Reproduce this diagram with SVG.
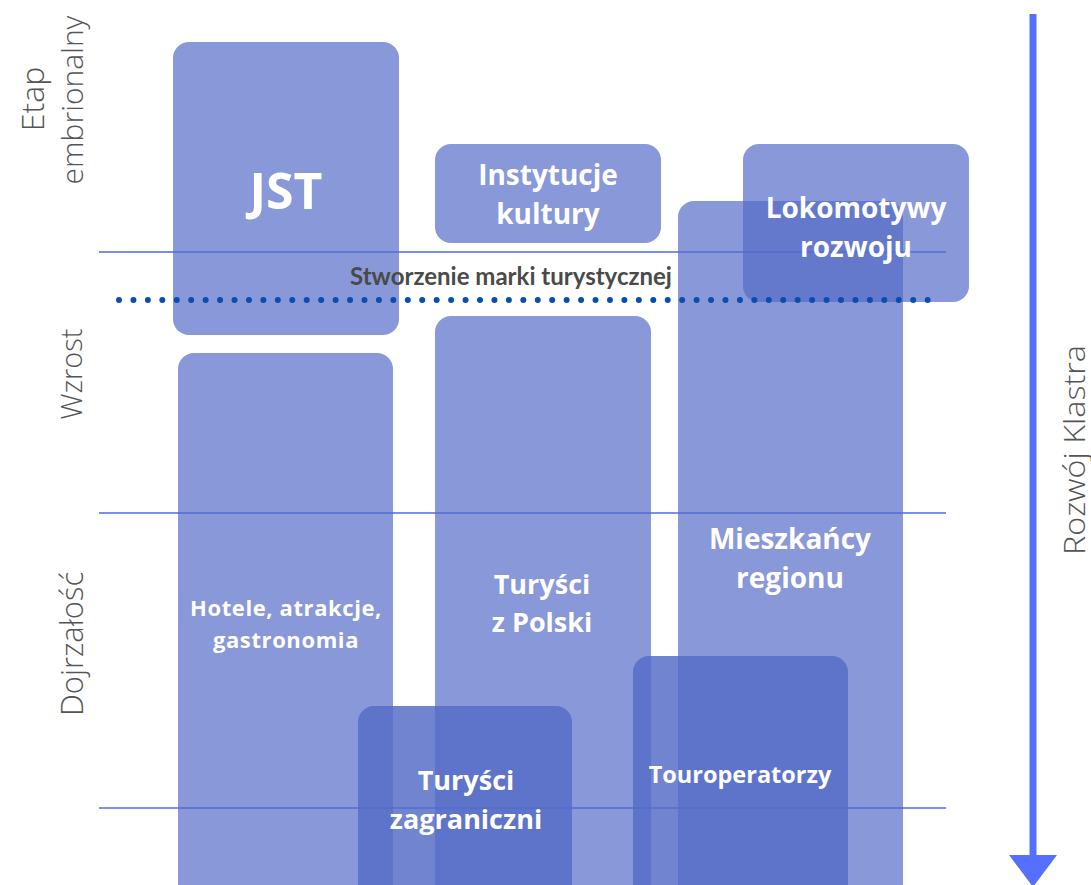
<svg xmlns="http://www.w3.org/2000/svg" width="1091" height="885" viewBox="0 0 1091 885">
  <style>
    .box { fill: #566cc7; fill-opacity: 0.7; }
    .box-dark { fill: #566cc7; fill-opacity: 0.84; }
    .label { font-family: "Open Sans", "Liberation Sans", sans-serif; font-weight: 700; fill: #ffffff; text-anchor: middle; }
    .phase { font-family: "Open Sans", "Liberation Sans", sans-serif; font-weight: 300; fill: #555555; text-anchor: middle; }
    .guide { stroke: #5068e8; stroke-width: 1.5; fill: none; }
  </style>
  <rect width="1091" height="885" fill="#ffffff"/>

  <!-- phase boundaries and development axis -->
  <g id="connectors">
    <line class="guide" x1="99" y1="252" x2="946" y2="252"/>
    <line class="guide" x1="99" y1="513" x2="946" y2="513"/>
    <line class="guide" x1="99" y1="808" x2="946" y2="808"/>
    <line x1="1033" y1="14" x2="1033" y2="858" stroke="#5570ff" stroke-width="7"/>
    <path d="M1009,855 L1057,855 L1033,887 Z" fill="#5570ff"/>
  </g>

  <!-- actors -->
  <g id="node-jst">
    <rect class="box" x="173" y="42" width="226" height="293" rx="16"/>
  </g>
  <g id="node-instytucje">
    <rect class="box" x="435" y="144" width="226" height="99" rx="16"/>
  </g>
  <g id="node-mieszkancy">
    <rect class="box" x="678" y="201" width="225" height="720" rx="16"/>
  </g>
  <g id="node-lokomotywy">
    <rect class="box" x="743" y="144" width="226" height="158" rx="16"/>
  </g>
  <g id="node-hotele">
    <rect class="box" x="178" y="353" width="215" height="600" rx="16"/>
  </g>
  <g id="node-turysci-polska">
    <rect class="box" x="435" y="316" width="216" height="600" rx="16"/>
  </g>
  <g id="node-turysci-zagraniczni">
    <rect class="box-dark" x="358" y="706" width="214" height="260" rx="16"/>
  </g>
  <g id="node-touroperatorzy">
    <rect class="box-dark" x="633" y="656" width="215" height="300" rx="16"/>
  </g>

  <!-- brand milestone -->
  <g id="milestone">
    <line x1="119" y1="300" x2="941" y2="300" stroke="#0a4db0" stroke-width="6" stroke-linecap="round" stroke-dasharray="0 14.44"/>
    <text x="511" y="285" font-family="Lato, 'Liberation Sans', sans-serif" font-weight="700" font-size="24" fill="#4a4a4a" text-anchor="middle">Stworzenie marki turystycznej</text>
  </g>

  <!-- node labels -->
  <g id="labels">
    <text class="label" x="286" y="209" font-size="50">JST</text>
    <text class="label" x="548" y="185" font-size="28">Instytucje</text>
    <text class="label" x="548" y="224" font-size="28">kultury</text>
    <text class="label" x="856" y="218" font-size="28">Lokomotywy</text>
    <text class="label" x="856" y="257" font-size="28">rozwoju</text>
    <text class="label" x="790" y="549" font-size="28">Mieszkańcy</text>
    <text class="label" x="790" y="588" font-size="28">regionu</text>
    <text class="label" x="542" y="594" font-size="27">Turyści</text>
    <text class="label" x="542" y="632" font-size="27">z Polski</text>
    <text class="label" x="286" y="616" font-size="22" letter-spacing="0.6">Hotele, atrakcje,</text>
    <text class="label" x="286" y="648" font-size="22" letter-spacing="0.6">gastronomia</text>
    <text class="label" x="466" y="790" font-size="27">Turyści</text>
    <text class="label" x="466" y="829" font-size="27">zagraniczni</text>
    <text class="label" x="740" y="783" font-size="23.5">Touroperatorzy</text>
  </g>

  <!-- phase names -->
  <g id="phases">
    <text class="phase" transform="translate(44,99) rotate(-90)" style="font-size:32px">Etap</text>
    <text class="phase" transform="translate(83,100) rotate(-90)" style="font-size:30px">embrionalny</text>
    <text class="phase" transform="translate(82,374) rotate(-90)" style="font-size:29px">Wzrost</text>
    <text class="phase" transform="translate(83,644) rotate(-90)" style="font-size:31px">Dojrzałość</text>
    <text class="phase" transform="translate(1085,450) rotate(-90)" style="font-size:29px" textLength="210" lengthAdjust="spacingAndGlyphs">Rozwój Klastra</text>
  </g>
</svg>
